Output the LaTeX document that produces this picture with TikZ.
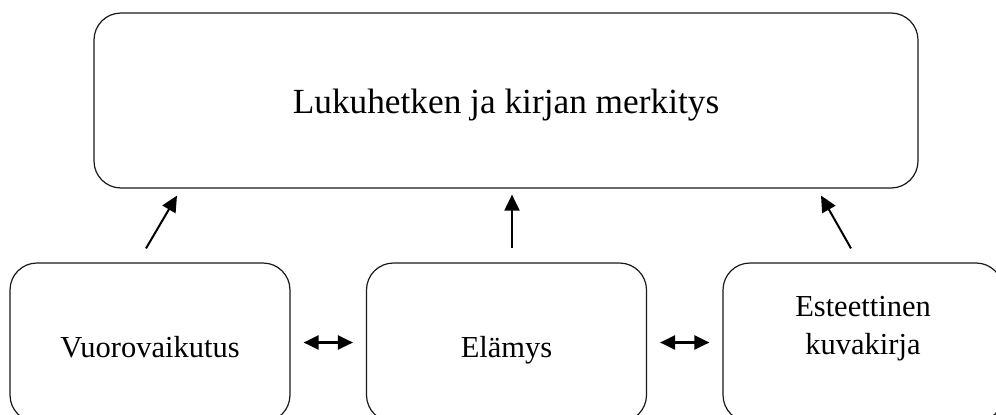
\documentclass[tikz,border=0pt]{standalone}
\usepackage{fontspec}
\setmainfont{Liberation Serif}
\usetikzlibrary{arrows.meta}
\tikzset{
  box/.style={draw=black!90, line width=1.2pt, rounded corners=27pt, inner sep=0pt, align=center},
  bigbox/.style={box, minimum width=824pt, minimum height=175pt, font=\fontsize{35.3}{42}\selectfont, text height=32pt, text depth=7pt},
  smallbox/.style={box, minimum width=280pt, minimum height=159pt, font=\fontsize{30.5}{38}\selectfont},
  onebox/.style={smallbox, text height=36pt, text depth=7pt},
  twobox/.style={smallbox, text height=23pt, text depth=0pt},
  uparrow/.style={line width=2pt, -{Triangle[length=16pt,width=15pt]}},
  dblarrow/.style={line width=2.2pt, {Triangle[length=15pt,width=14pt]}-{Triangle[length=15pt,width=14pt]}, shorten <=13pt, shorten >=13pt}
}
\begin{document}
\begin{tikzpicture}[x=1pt,y=-1pt]
\useasboundingbox (0,0) rectangle (996,415);
\clip (0,0) rectangle (996,415);
\node[bigbox] (top) at (506,100.5) {Lukuhetken ja kirjan merkitys};
\node[onebox] (vu) at (150,342.5) {Vuorovaikutus};
\node[onebox] (el) at (506.5,342.5) {Elämys};
\node[twobox] (es) at (863,342.5) {Esteettinen\\kuvakirja};
\draw[uparrow] ([shift={(-4,-14)}]vu.north) -- ([shift={(-329,7)}]top.south);
\draw[uparrow] ([shift={(5.5,-14)}]el.north) -- ([shift={(6,6)}]top.south);
\draw[uparrow] ([shift={(-12,-14)}]es.north) -- ([shift={(315,7)}]top.south);
\draw[dblarrow] (vu.east) -- (el.west);
\draw[dblarrow] (el.east) -- (es.west);
\end{tikzpicture}
\end{document}
